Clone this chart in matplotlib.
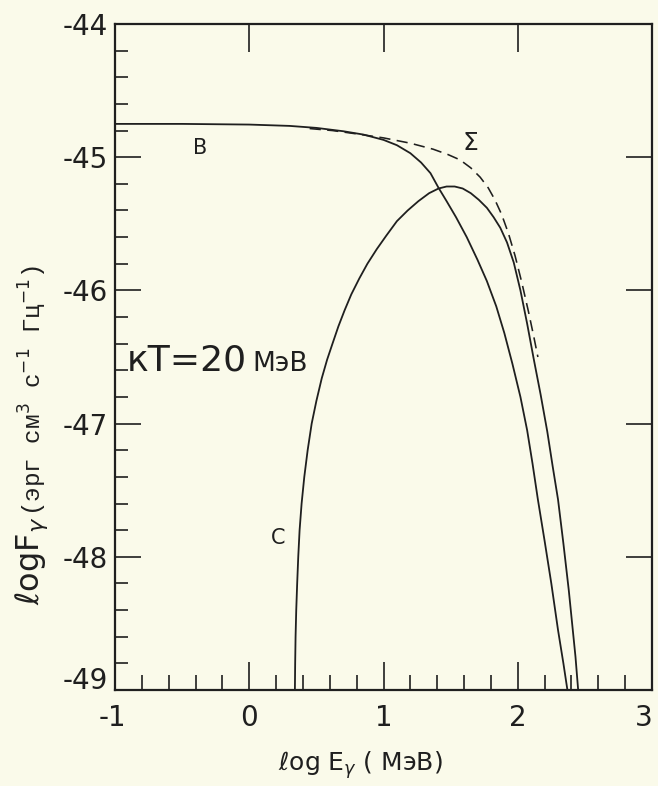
import matplotlib
matplotlib.use("Agg")
import matplotlib.pyplot as plt
from matplotlib.ticker import MultipleLocator, FixedLocator
from matplotlib.transforms import ScaledTranslation

plt.rcParams['font.family'] = ['DejaVu Sans']
plt.rcParams['axes.unicode_minus'] = False
plt.rcParams['mathtext.fontset'] = 'dejavusans'

# ---- data ----
b_x = [-1.0, -0.5, 0.0, 0.3, 0.5, 0.7, 0.85, 1.0, 1.1, 1.2, 1.28, 1.35, 1.41,
       1.47, 1.54, 1.62, 1.70, 1.77, 1.84, 1.90, 1.96, 2.02, 2.07, 2.11, 2.15,
       2.20, 2.25, 2.30, 2.34, 2.37]
b_y = [-44.75, -44.75, -44.755, -44.765, -44.78, -44.805, -44.83, -44.87, -44.91,
       -44.97, -45.04, -45.12, -45.23, -45.33, -45.45, -45.60, -45.77, -45.93,
       -46.12, -46.32, -46.55, -46.80, -47.05, -47.30, -47.57, -47.88, -48.20,
       -48.55, -48.80, -49.0]

c_x = [0.34, 0.342, 0.345, 0.35, 0.357, 0.365, 0.375, 0.39, 0.41, 0.435, 0.465,
       0.50, 0.54, 0.58, 0.62, 0.664, 0.71, 0.76, 0.82, 0.88, 0.95, 1.02, 1.10,
       1.18, 1.26, 1.34, 1.41, 1.47, 1.53, 1.59, 1.65, 1.71, 1.77, 1.82, 1.87,
       1.92, 1.97, 2.02, 2.07, 2.12, 2.17, 2.22, 2.26, 2.30, 2.34, 2.38, 2.41,
       2.43, 2.45]
c_y = [-49.0, -48.8, -48.6, -48.4, -48.2, -48.0, -47.8, -47.6, -47.4, -47.2, -47.0,
       -46.83, -46.66, -46.52, -46.40, -46.27, -46.15, -46.03, -45.91, -45.80,
       -45.69, -45.59, -45.48, -45.40, -45.33, -45.27, -45.235, -45.22, -45.22,
       -45.235, -45.27, -45.32, -45.38, -45.45, -45.53, -45.64, -45.79, -46.0,
       -46.25, -46.52, -46.78, -47.06, -47.32, -47.57, -47.90, -48.25, -48.55,
       -48.75, -49.0]

sum_x = [0.45, 0.62, 0.80, 1.0, 1.2, 1.37, 1.48, 1.57, 1.65, 1.72, 1.78, 1.83,
         1.88, 1.93, 1.98, 2.03, 2.08, 2.12, 2.15]
sum_y = [-44.785, -44.80, -44.825, -44.855, -44.895, -44.94, -44.98, -45.02,
         -45.08, -45.15, -45.23, -45.32, -45.43, -45.57, -45.74, -45.94, -46.16,
         -46.35, -46.50]

x_ticks = [-1, 0, 1, 2, 3]
y_ticks = [-49, -48, -47, -46, -45, -44]

ink = '#1f1f1f'
bg = '#fafaea'

fig = plt.figure(figsize=(6.58, 7.86), dpi=100, facecolor=bg)
ax = fig.add_axes([115/658, 1-690/786, (652-115)/658, (690-24)/786], facecolor=bg)

ax.plot(b_x, b_y, color=ink, lw=1.3, solid_joinstyle='round')
ax.plot(c_x, c_y, color=ink, lw=1.3, solid_joinstyle='round')
ax.plot(sum_x, sum_y, color=ink, lw=1.15, linestyle=(0, (7, 4)))

ax.set_xlim(-1, 3)
ax.set_ylim(-49, -44)
ax.xaxis.set_major_locator(FixedLocator(x_ticks))
ax.yaxis.set_major_locator(FixedLocator(y_ticks))
ax.xaxis.set_minor_locator(MultipleLocator(0.2))
ax.yaxis.set_minor_locator(MultipleLocator(0.2))

for s in ax.spines.values():
    s.set_linewidth(1.6)
    s.set_color(ink)

ax.tick_params(axis='both', which='both', direction='in', color=ink, width=1.2,
               labelcolor=ink, labelsize=20)
ax.tick_params(axis='x', which='major', length=20, top=True, bottom=True, pad=10)
ax.tick_params(axis='x', which='minor', length=11, top=False, bottom=True)
ax.tick_params(axis='y', which='major', length=19, left=True, right=True, pad=5)
ax.tick_params(axis='y', which='minor', length=9.5, left=True, right=False)

# nudge corner tick labels like the reference
fig.canvas.draw()
xl = ax.get_xticklabels()
xl[-1].set_transform(xl[-1].get_transform() + ScaledTranslation(-8/100, 0, fig.dpi_scale_trans))
xl[0].set_transform(xl[0].get_transform() + ScaledTranslation(-3/100, 0, fig.dpi_scale_trans))
yl = ax.get_yticklabels()
yl[0].set_transform(yl[0].get_transform() + ScaledTranslation(0, 12/100, fig.dpi_scale_trans))

# curve labels
ax.text(-0.367, -44.93, 'B', fontsize=15, color=ink, ha='center', va='center')
ax.text(1.644, -44.89, 'Σ', fontsize=18, color=ink, ha='center', va='center')
ax.text(0.214, -47.86, 'C', fontsize=15, color=ink, ha='center', va='center')

t1 = ax.text(-0.91, -46.6, 'кТ=20', fontsize=26, color=ink, ha='left', va='baseline')
ax.annotate('МэВ', xy=(1, 0), xycoords=t1, xytext=(4, 0), textcoords='offset points',
            fontsize=19, color=ink, ha='left', va='bottom')

# axis labels
fig.text(360/658, 1-765/786, 'ℓog E$_{\\gamma}$ ( МэВ)', fontsize=18, color=ink,
         ha='center', va='center')

yl1 = fig.text(32/658, 1-605/786, 'ℓogF$_{\\gamma}$', fontsize=23, color=ink,
               rotation=90, ha='center', va='bottom')
fig.canvas.draw()
r = fig.canvas.get_renderer()
bb = yl1.get_window_extent(r)
fig.text(bb.x1/658 - 0.002, bb.y1/786, '(эрг см$^{3}$ с$^{-1}$ Гц$^{-1}$)',
         fontsize=17.5, color=ink, rotation=90, ha='right', va='bottom',
         family=['Liberation Mono', 'DejaVu Sans Mono'])

fig.savefig('out.png', dpi=100, facecolor=bg)
